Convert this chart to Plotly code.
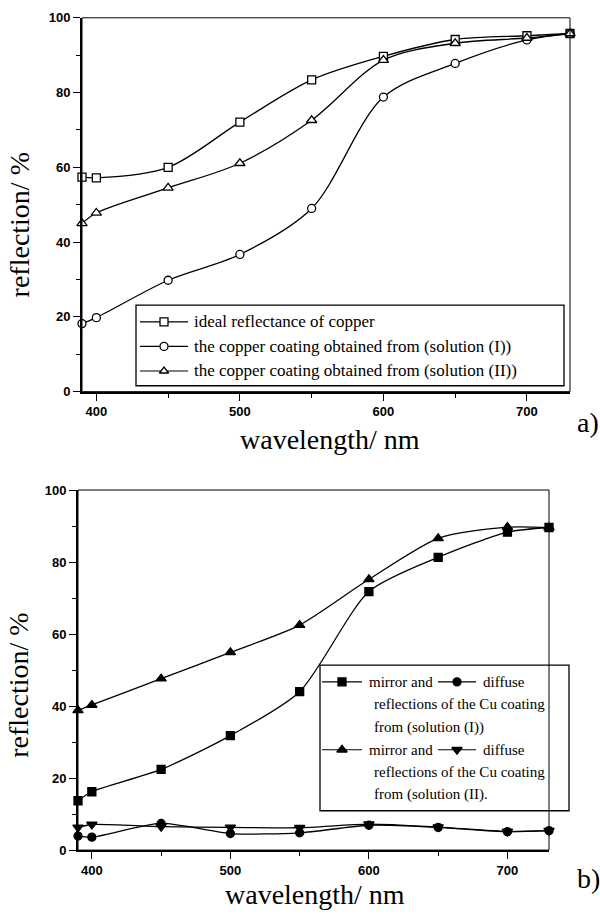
import plotly.graph_objects as go

# ---------------- data ----------------
wavelength = [390, 400, 450, 500, 550, 600, 650, 700, 730]

# panel a
ideal_copper = [57.4, 57.2, 60.0, 72.1, 83.4, 89.7, 94.2, 95.2, 95.8]
coating_sol_I = [18.2, 19.8, 29.8, 36.7, 49.0, 78.8, 87.8, 94.1, 95.8]
coating_sol_II = [45.0, 47.8, 54.5, 61.1, 72.6, 88.7, 93.2, 94.6, 95.8]

# panel b
mirror_I = [13.7, 16.2, 22.4, 31.8, 44.0, 71.8, 81.3, 88.3, 89.6]
diffuse_I = [3.9, 3.6, 7.4, 4.6, 4.8, 6.9, 6.3, 5.1, 5.4]
mirror_II = [38.8, 40.3, 47.6, 54.9, 62.5, 75.2, 86.6, 89.7, 89.6]
diffuse_II = [6.3, 7.1, 6.5, 6.3, 6.2, 7.2, 6.4, 5.2, 5.4]

x_ticks = [400, 500, 600, 700]
y_ticks = [0, 20, 40, 60, 80, 100]

legend_a = ["ideal reflectance of copper",
            "the copper coating obtained from (solution (I))",
            "the copper coating obtained from (solution (II))"]

W, H = 600, 924
SERIF = "Liberation Serif, Times New Roman, serif"
SANS = "Liberation Sans, Arial, sans-serif"

fig = go.Figure()

LW = 1.3


def add_series(x, y, symbol, xa, ya, size=8, filled=False, smoothing=0.9):
    fig.add_trace(go.Scatter(
        x=x, y=y, mode="lines+markers", xaxis=xa, yaxis=ya,
        line=dict(color="black", width=LW, shape="spline", smoothing=smoothing),
        marker=dict(symbol=symbol, size=size,
                    color="black" if filled else "white",
                    line=dict(color="black", width=1.3)),
        cliponaxis=False, showlegend=False, hoverinfo="skip"))


# panel a
add_series(wavelength, ideal_copper, "square", "x", "y", 8)
add_series(wavelength, coating_sol_I, "circle", "x", "y", 8)
add_series(wavelength, coating_sol_II, "triangle-up", "x", "y", 9)

# panel b
add_series(wavelength, mirror_I, "square", "x2", "y2", 8, True, 0.7)
add_series(wavelength, diffuse_I, "circle", "x2", "y2", 8, True, 0.7)
add_series(wavelength, mirror_II, "triangle-up", "x2", "y2", 9, True, 0.7)
add_series(wavelength, diffuse_II, "triangle-down", "x2", "y2", 9, True, 0.7)

# -------- legend samples (drawn in a pixel-space overlay axis) --------
def legend_sample(x0, x1, y, symbol, filled, size=8):
    fig.add_trace(go.Scatter(
        x=[x0, x1], y=[y, y], mode="lines", xaxis="x3", yaxis="y3",
        line=dict(color="black", width=1.2), showlegend=False, hoverinfo="skip"))
    fig.add_trace(go.Scatter(
        x=[(x0 + x1) / 2], y=[y], mode="markers", xaxis="x3", yaxis="y3",
        marker=dict(symbol=symbol, size=size, color="black" if filled else "white",
                    line=dict(color="black", width=1.3)),
        showlegend=False, hoverinfo="skip"))


annotations = []

# legend a
rows_a = [320, 345, 370]
syms_a = ["square", "circle", "triangle-up"]
for yy, s, t in zip(rows_a, syms_a, legend_a):
    legend_sample(140, 188, yy, s, False, 8)
    annotations.append(dict(x=192 / W, y=1 - yy / H, xref="paper", yref="paper",
                            text=t, showarrow=False, xanchor="left", yanchor="middle",
                            font=dict(family=SERIF, size=17, color="black")))

# legend b
rows_b = [686, 709, 732, 755, 778, 800]
legend_sample(322, 362, rows_b[0], "square", True, 8)
legend_sample(438, 476, rows_b[0], "circle", True, 8)
legend_sample(322, 362, rows_b[3], "triangle-up", True, 9)
legend_sample(438, 476, rows_b[3], "triangle-down", True, 9)
fontb = dict(family=SERIF, size=15, color="black")
for xx, yy, t in [(367, rows_b[0], "mirror and"), (481, rows_b[0], "diffuse"),
                  (372, rows_b[1], "reflections of the Cu coating"),
                  (372, rows_b[2], "from (solution (I))"),
                  (367, rows_b[3], "mirror and"), (481, rows_b[3], "diffuse"),
                  (372, rows_b[4], "reflections of the Cu coating"),
                  (372, rows_b[5], "from (solution (II).")]:
    annotations.append(dict(x=xx / W, y=1 - yy / H, xref="paper", yref="paper",
                            text=t, showarrow=False, xanchor="left", yanchor="middle",
                            font=fontb))

# axis titles and panel labels
title_font = dict(family=SERIF, size=28, color="black")
annotations += [
    dict(x=19 / W, y=1 - 222 / H, text="reflection/ %", textangle=-90),
    dict(x=330 / W, y=1 - 440 / H, text="wavelength/ nm"),
    dict(x=588 / W, y=1 - 422 / H, text="a)"),
    dict(x=19 / W, y=1 - 690 / H, text="reflection/ %", textangle=-90),
    dict(x=315 / W, y=1 - 902 / H, text="wavelength/ nm"),
    dict(x=588 / W, y=1 - 886 / H, text="b)"),
]
for a in annotations[-6:]:
    a.update(xref="paper", yref="paper", showarrow=False,
             xanchor="center", yanchor="middle", font=title_font)

shapes = [
    # thin frames
    dict(type="rect", xref="x domain", yref="y domain", x0=0, x1=1, y0=0, y1=1,
         line=dict(color="black", width=1)),
    dict(type="rect", xref="x2 domain", yref="y2 domain", x0=0, x1=1, y0=0, y1=1,
         line=dict(color="black", width=1)),
    # legend boxes
    dict(type="rect", xref="paper", yref="paper", x0=136 / W, x1=564 / W,
         y0=1 - 385 / H, y1=1 - 303 / H, line=dict(color="black", width=1.3)),
    dict(type="rect", xref="paper", yref="paper", x0=320 / W, x1=569 / W,
         y0=1 - 817 / H, y1=1 - 669 / H, line=dict(color="black", width=1.3)),
]

tickfont = dict(family=SANS, size=13, color="black", weight="bold")


def xaxis(domain):
    return dict(domain=domain, range=[390, 730], tickvals=x_ticks, ticks="outside",
                ticklen=7, tickwidth=1.3, tickcolor="black", showline=True,
                linewidth=2, linecolor="black", showgrid=False, zeroline=False,
                tickfont=tickfont,
                minor=dict(tickvals=[450, 550, 650], ticks="outside", ticklen=4,
                           tickwidth=1.2, tickcolor="black", showgrid=False))


def yaxis(domain, anchor):
    return dict(domain=domain, anchor=anchor, range=[0, 100], tickvals=y_ticks,
                ticks="outside", ticklen=7, tickwidth=1.3, tickcolor="black",
                showline=True, linewidth=2, linecolor="black", showgrid=False,
                zeroline=False, tickfont=tickfont,
                minor=dict(tickvals=[10, 30, 50, 70, 90], ticks="outside", ticklen=4,
                           tickwidth=1.2, tickcolor="black", showgrid=False))


xa1 = xaxis([82 / W, 570 / W]); xa1["anchor"] = "y"
ya1 = yaxis([1 - 391 / H, 1 - 11 / H], "x")
xa2 = xaxis([78 / W, 549 / W]); xa2["anchor"] = "y2"
ya2 = yaxis([1 - 857 / H, 1 - 491 / H], "x2")

fig.update_layout(
    width=W, height=H, margin=dict(l=0, r=0, t=0, b=0),
    paper_bgcolor="white", plot_bgcolor="rgba(0,0,0,0)",
    xaxis=xa1, yaxis=ya1, xaxis2=xa2, yaxis2=ya2,
    xaxis3=dict(domain=[0, 1], range=[0, W], visible=False, anchor="y3"),
    yaxis3=dict(domain=[0, 1], range=[H, 0], visible=False, anchor="x3"),
    annotations=annotations, shapes=shapes, showlegend=False,
)

fig.write_html("out.html")
